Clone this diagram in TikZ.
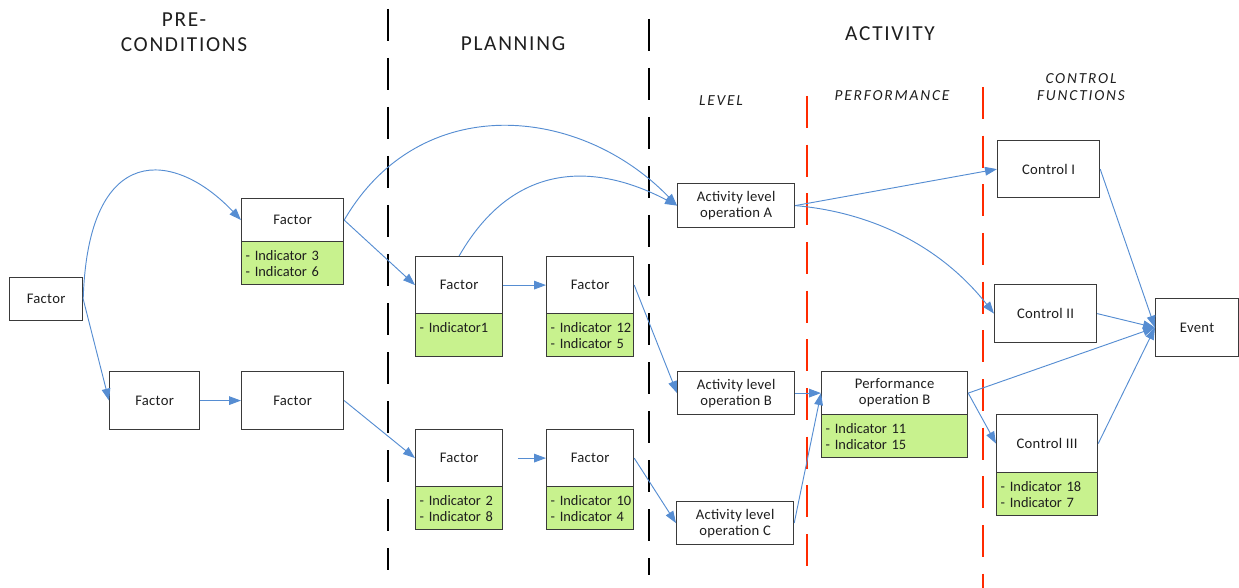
\documentclass[tikz,border=0pt]{standalone}
\usepackage{fontspec}
\setmainfont{Carlito}
\newfontfamily\hdrfont{Carlito}[LetterSpace=8]
\newfontfamily\subfont{Carlito}[LetterSpace=12]
\newfontfamily\boxfont{Carlito}[LetterSpace=2]
\usetikzlibrary{arrows.meta}
\definecolor{connblue}{HTML}{568DD2}
\definecolor{indgreen}{HTML}{C8F28E}
\definecolor{sepred}{HTML}{FF2A00}
\definecolor{boxedge}{HTML}{3A3A3A}
\definecolor{txt}{HTML}{1E1E1E}
\newcommand\indl[1]{\hspace*{3pt}\mbox{#1}}
\begin{document}
\begin{tikzpicture}[x=0.75pt,y=-0.75pt,
  box/.style 2 args={draw=boxedge, line width=0.9pt, inner sep=0pt, text=txt,
    font=\boxfont\fontsize{11}{12}\selectfont, align=center, anchor=north west,
    minimum width=#1*0.75pt, minimum height=#2*0.75pt},
  indbox/.style 2 args={draw=boxedge, line width=0.9pt, inner sep=0pt, text=txt,
    font=\fontsize{10.8}{12}\selectfont, fill=indgreen, align=left, anchor=north west,
    minimum width=#1*0.75pt, minimum height=#2*0.75pt, text width=#1*0.75pt},
  conn/.style={draw=connblue, line width=0.7pt, -{Triangle[length=9pt,width=6.5pt]}},
  blacksep/.style={draw=black, line width=1.6pt, dash pattern=on 24pt off 12.75pt},
  redsep/.style={draw=sepred, line width=1.6pt, dash pattern=on 24pt off 12.5pt},
  hdr/.style={font=\hdrfont\fontsize{16}{19}\selectfont, text=txt, align=center, inner sep=0pt},
  subhdr/.style={font=\subfont\itshape\fontsize{11.5}{13}\selectfont, text=txt, align=center, inner sep=0pt}]
\useasboundingbox (0,0) rectangle (1239,588);

% separators
\draw[blacksep] (388,9) -- (388,570);
\draw[blacksep] (649,19) -- (649,575);
\draw[redsep] (807,96) -- (807,568);
\draw[redsep] (983,87) -- (983,588);

% headers
\node[hdr] (hPre) at (184,32) {PRE-\\CONDITIONS};
\node[hdr] (hPlan) at (513,44) {PLANNING};
\node[hdr] (hAct) at (890,34) {ACTIVITY};
\node[subhdr] (hLevel) at (721,101) {LEVEL};
\node[subhdr] (hPerf) at (892,96) {PERFORMANCE};
\node[subhdr] (hCtrl) at (1081,87) {CONTROL\\FUNCTIONS};

% boxes
\node[box={73}{43}] (F0) at (9,277) {Factor};
\node[box={102}{43}] (F1) at (241,198) {Factor};
\node[indbox={102}{43}] (F1i) at (241,241) {\indl{- Indicator 3}\\\indl{- Indicator 6}};
\node[box={90}{58}] (F2) at (109,371) {Factor};
\node[box={102}{58}] (F3) at (241,371) {Factor};

\node[box={87}{57}] (P1) at (415,256) {Factor};
\node[indbox={87}{43}] (P1i) at (415,313) {\indl{- Indicator1}\\\phantom{x}};
\node[box={87}{57}] (P2) at (546,256) {Factor};
\node[indbox={87}{43}] (P2i) at (546,313) {\indl{- Indicator 12}\\\indl{- Indicator 5}};
\node[box={87}{57}] (P3) at (415,429) {Factor};
\node[indbox={87}{43}] (P3i) at (415,486) {\indl{- Indicator 2}\\\indl{- Indicator 8}};
\node[box={87}{57}] (P4) at (546,429) {Factor};
\node[indbox={87}{43}] (P4i) at (546,486) {\indl{- Indicator 10}\\\indl{- Indicator 4}};

\node[box={117}{44}] (A) at (677,183) {Activity level\\operation A};
\node[box={117}{43}] (B) at (677,371) {Activity level\\operation B};
\node[box={117}{43}] (C) at (676,501) {Activity level\\operation C};

\node[box={146}{43}] (PB) at (821,371) {Performance\\operation B};
\node[indbox={146}{43}] (PBi) at (821,414) {\indl{- Indicator 11}\\\indl{- Indicator 15}};

\node[box={102}{57}] (C1) at (997,140) {Control I};
\node[box={102}{58}] (C2) at (994,284) {Control II};
\node[box={101}{58}] (C3) at (996,414) {Control III};
\node[indbox={101}{43}] (C3i) at (996,472) {\indl{- Indicator 18}\\\indl{- Indicator 7}};
\node[box={83}{58}] (E) at (1155,298) {Event};

% connectors
\draw[conn] (F0.east) .. controls (88,140) and (175,150) .. (F1.west);
\draw[conn] (F0.east) -- (F2.west);
\draw[conn] (F2.east) -- (F3.west);
\draw[conn] (F1.east) -- (P1.west);
\draw[conn] (F1.east) .. controls (420,90) and (580,105) .. (A.west);
\draw[conn] (P1.north) .. controls (520,150) and (610,170) .. (A.west);
\draw[conn] (P1.east) -- (P2.west);
\draw[conn] (P2.east) -- (B.west);
\draw[conn] (F3.east) -- (P3.west);
\draw[conn, shorten <=11pt] (P3.east) -- (P4.west);
\draw[conn] (P4.east) -- (C.west);
\draw[conn] (B.east) -- (PB.west);
\draw[conn] (C.east) -- (PB.west);
\draw[conn] (A.east) -- (C1.west);
\draw[conn] (A.east) .. controls (870,212) and (940,245) .. (C2.west);
\draw[conn] (C1.east) -- (E.west);
\draw[conn] (C2.east) -- (E.west);
\draw[conn] (PB.east) -- (E.west);
\draw[conn] (PB.east) -- (C3.west);
\draw[conn] (C3.east) -- (E.west);
\end{tikzpicture}
\end{document}
